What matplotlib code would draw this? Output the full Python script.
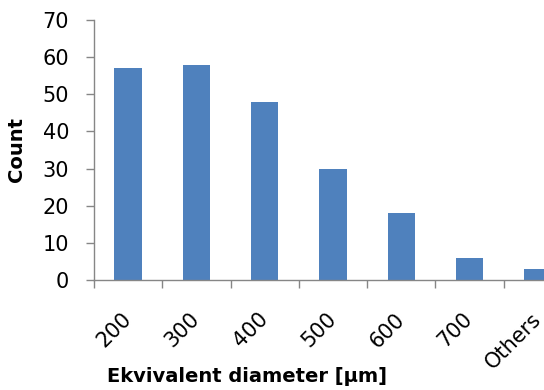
import matplotlib
matplotlib.use('Agg')
import matplotlib.pyplot as plt
import numpy as np

categories = ['200', '300', '400', '500', '600', '700', 'Others']
counts = [57, 58, 48, 30, 18, 6, 3]

plt.rcParams['font.family'] = ['DejaVu Sans']

fig = plt.figure(figsize=(5.44, 3.9), dpi=100)
# plot area runs past the right edge, like the original (Others bar is cut)
ax = fig.add_axes([94 / 544, 1 - 280 / 390, 478 / 544, 260 / 390])

x = np.arange(len(categories))
ax.bar(x, counts, width=0.4, color='#4F81BD', zorder=2)

ax.set_xlim(-0.5, len(categories) - 0.5)
ax.set_ylim(0, 70)
ax.set_yticks(range(0, 71, 10))

# ticks sit between categories, labels under the bar centres
ax.set_xticks(np.arange(-0.5, len(categories), 1.0))
ax.set_xticklabels([])
ax.set_xticks(x, minor=True)
ax.set_xticklabels(categories, minor=True, rotation=45, ha='right', va='center',
                   rotation_mode='anchor', fontsize=15)
ax.tick_params(axis='x', which='minor', length=0, pad=26)
ax.tick_params(axis='x', which='major', length=6, width=1, color='#868686')
ax.tick_params(axis='y', length=6, width=1, color='#868686', labelsize=15, pad=12)

for s in ['top', 'right']:
    ax.spines[s].set_visible(False)
for s in ['left', 'bottom']:
    ax.spines[s].set_color('#868686')
    ax.spines[s].set_linewidth(1)

ax.set_ylabel('Count', fontsize=14, fontweight='bold')
ax.yaxis.set_label_coords(-0.142, 0.5)
fig.text(247 / 544, 1 - 377 / 390, 'Ekvivalent diameter [µm]', fontsize=14,
         fontweight='bold', ha='center', va='center')

fig.savefig('out.png', dpi=100)
